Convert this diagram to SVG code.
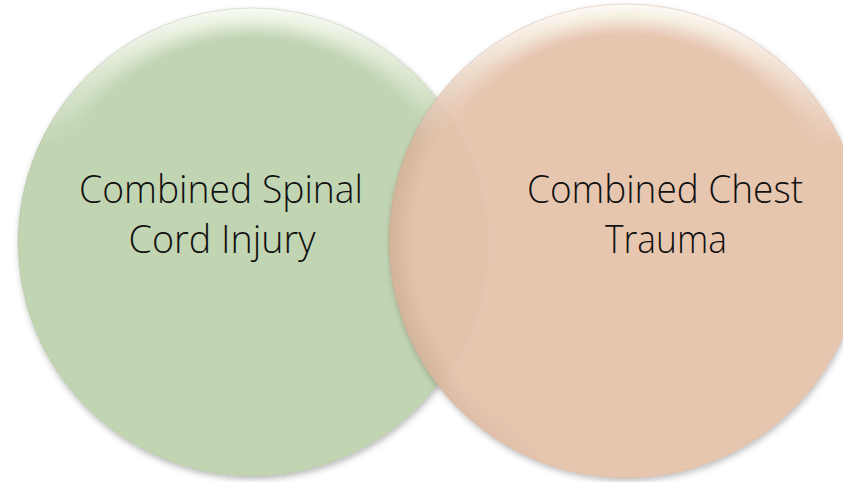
<svg xmlns="http://www.w3.org/2000/svg" width="843" height="482" viewBox="0 0 843 482">
  <defs>
    <style>
      .lbl { font-family: "Open Sans", "Liberation Sans", sans-serif; font-weight: 300; font-size: 38px; fill: #111111; text-anchor: middle; }
    </style>
    <filter id="shadow" x="-10%" y="-10%" width="120%" height="125%">
      <feDropShadow dx="1" dy="3" stdDeviation="3" flood-color="#000" flood-opacity="0.28"/>
    </filter>
    <radialGradient id="hl" cx="0.5" cy="0.5" r="0.5">
      <stop offset="0.87" stop-color="#ffffff" stop-opacity="0"/>
      <stop offset="0.95" stop-color="#fbfdf2" stop-opacity="0.85"/>
      <stop offset="1" stop-color="#ffffff" stop-opacity="0.95"/>
    </radialGradient>
    <radialGradient id="rim" cx="0.5" cy="0.5" r="0.5">
      <stop offset="0.9" stop-color="#6a5030" stop-opacity="0"/>
      <stop offset="1" stop-color="#6a5030" stop-opacity="0.14"/>
    </radialGradient>
    <linearGradient id="topfade" x1="0" y1="0" x2="0" y2="1">
      <stop offset="0" stop-color="#fff"/>
      <stop offset="0.3" stop-color="#000"/>
    </linearGradient>
    <linearGradient id="leftfade" x1="0" y1="0" x2="1" y2="0">
      <stop offset="0" stop-color="#fff"/>
      <stop offset="0.35" stop-color="#000"/>
    </linearGradient>
    <mask id="mTopL" maskContentUnits="userSpaceOnUse">
      <rect x="0" y="0" width="843" height="482" fill="url(#topfade)"/>
    </mask>
    <mask id="mLeftR" maskContentUnits="userSpaceOnUse">
      <rect x="389" y="0" width="480" height="482" fill="url(#leftfade)"/>
    </mask>
  </defs>

  <rect x="0" y="0" width="843" height="482" fill="#ffffff"/>

  <g id="node-spinal">
    <circle cx="252" cy="242" r="234" fill="#c2d5b3" filter="url(#shadow)"/>
    <circle cx="252" cy="242" r="234" fill="url(#hl)" mask="url(#mTopL)"/>
    <circle cx="252" cy="242" r="234" fill="none" stroke="#9fb08f" stroke-opacity="0.35" stroke-width="0.8"/>
  </g>

  <g id="node-chest">
    <circle cx="626" cy="241" r="237" fill="#e8c4ac" fill-opacity="0.9" filter="url(#shadow)"/>
    <circle cx="626" cy="241" r="237" fill="url(#rim)" mask="url(#mLeftR)"/>
    <circle cx="626" cy="241" r="237" fill="url(#hl)" mask="url(#mTopL)"/>
    <circle cx="626" cy="241" r="237" fill="none" stroke="#b89a84" stroke-opacity="0.35" stroke-width="0.8"/>
  </g>

  <g id="labels">
    <text class="lbl" x="221" y="203" textLength="284" lengthAdjust="spacingAndGlyphs">Combined Spinal</text>
    <text class="lbl" x="222" y="253" textLength="187" lengthAdjust="spacingAndGlyphs">Cord Injury</text>
    <text class="lbl" x="665" y="203" textLength="276" lengthAdjust="spacingAndGlyphs">Combined Chest</text>
    <text class="lbl" x="666" y="253" textLength="122" lengthAdjust="spacingAndGlyphs">Trauma</text>
  </g>

  <g id="connectors"></g>
</svg>
